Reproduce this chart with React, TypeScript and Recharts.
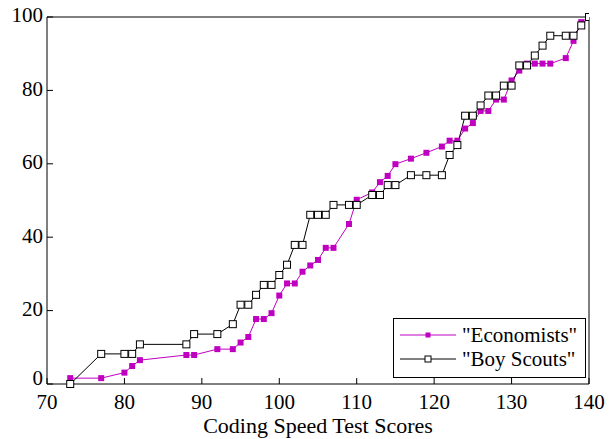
import React from 'react';
import { LineChart, Line, XAxis, YAxis, Legend } from 'recharts';

const scores = [73, 77, 80, 81, 82, 88, 89, 92, 94, 95, 96, 97, 98, 99, 100, 101, 102, 103, 104, 105, 106, 107, 109, 110, 112, 113, 114, 115, 117, 119, 121, 122, 123, 124, 125, 126, 127, 128, 129, 130, 131, 132, 133, 134, 135, 137, 138, 139, 140];
const economists = [1.6, 1.6, 3.1, 4.9, 6.5, 7.9, 7.9, 9.5, 9.5, 11.3, 12.8, 17.7, 17.7, 19.3, 24.1, 27.4, 27.4, 30.6, 32.3, 33.8, 37.1, 37.1, 43.6, 50.2, 52.2, 55.0, 56.7, 59.9, 61.4, 63.0, 64.7, 66.3, 66.3, 69.6, 71.1, 74.4, 74.4, 77.5, 77.5, 82.7, 85.4, 87.3, 87.3, 87.3, 87.3, 88.8, 93.5, 98.6, 100];
const boyScouts = [0, 8.2, 8.2, 8.2, 10.8, 10.8, 13.6, 13.6, 16.3, 21.6, 21.6, 24.3, 27.0, 27.0, 29.7, 32.5, 37.9, 37.9, 46.1, 46.1, 46.1, 48.8, 48.8, 48.8, 51.5, 51.5, 54.2, 54.2, 56.9, 56.9, 56.9, 62.4, 65.1, 73.1, 73.1, 75.9, 78.6, 78.6, 81.3, 81.3, 86.8, 86.8, 89.5, 92.2, 94.9, 94.9, 94.9, 97.7, 100];
const xTicks = [70, 80, 90, 100, 110, 120, 130, 140];
const yTicks = [0, 20, 40, 60, 80, 100];
const seriesNames = ['"Economists"', '"Boy Scouts"'];

const data = scores.map((s, i) => ({ score: s, econ: economists[i], boy: boyScouts[i] }));

const MAGENTA = '#c000c0';
const FONT = "'Liberation Serif', 'DejaVu Serif', 'Times New Roman', Times, serif";

const EconDot = (props: any) => {
  const { cx, cy } = props;
  if (cx == null || cy == null) return null;
  return <rect x={cx - 3} y={cy - 3} width={6} height={6} fill={MAGENTA} stroke="none" />;
};

const BoyDot = (props: any) => {
  const { cx, cy } = props;
  if (cx == null || cy == null) return null;
  return <rect x={cx - 3.5} y={cy - 3.5} width={7} height={7} fill="#fff" stroke="#000" strokeWidth={1} />;
};

const YTick = (props: any) => {
  const { x, y, payload } = props;
  const shift = payload.value === 0 ? -6 : -2;
  return (
    <text x={x} y={y + shift} dy="0.355em" textAnchor="end" fill="#000" fontSize={21} fontFamily={FONT}>
      {payload.value}
    </text>
  );
};

const LegendBox = () => (
  <div
    style={{
      width: 193,
      height: 60,
      border: '1px solid #000',
      boxSizing: 'border-box',
      background: '#fff',
      fontFamily: FONT,
      fontSize: 21,
      color: '#000',
      paddingTop: 4,
    }}
  >
    {[0, 1].map((k) => (
      <div key={k} style={{ display: 'flex', alignItems: 'center', height: 24, lineHeight: '24px' }}>
        <svg width={68} height={24} style={{ display: 'block' }}>
          <line x1={6} y1={12} x2={62} y2={12} stroke={k === 0 ? MAGENTA : '#000'} strokeWidth={1} />
          {k === 0 ? (
            <rect x={31.5} y={9.5} width={5} height={5} fill={MAGENTA} />
          ) : (
            <rect x={31} y={9} width={6} height={6} fill="#fff" stroke="#000" strokeWidth={1} />
          )}
        </svg>
        <span style={{ whiteSpace: 'nowrap' }}>{seriesNames[k]}</span>
      </div>
    ))}
  </div>
);

export default function App() {
  return (
    <div style={{ position: 'absolute', left: 0, top: 0, background: '#fff' }}>
      <LineChart width={609} height={439} data={data} margin={{ top: 0, right: 0, bottom: 0, left: 0 }}>
        <XAxis
          dataKey="score"
          type="number"
          domain={[70, 140]}
          ticks={xTicks}
          allowDataOverflow
          height={55}
          stroke="#000"
          tickSize={-6}
          tickMargin={16}
          tick={{ fill: '#000', fontSize: 21, fontFamily: FONT }}
          label={{ value: 'Coding Speed Test Scores', position: 'insideBottom', offset: 6, fill: '#000', fontSize: 22, fontFamily: FONT }}
        />
        <XAxis
          xAxisId="top"
          orientation="top"
          dataKey="score"
          type="number"
          domain={[70, 140]}
          ticks={xTicks}
          height={17}
          stroke="#000"
          tickSize={-6}
          tick={false}
        />
        <YAxis
          type="number"
          domain={[0, 100]}
          ticks={yTicks}
          width={47}
          stroke="#000"
          tickSize={-6}
          tickMargin={10}
          tick={<YTick />}
        />
        <YAxis
          yAxisId="right"
          orientation="right"
          type="number"
          domain={[0, 100]}
          ticks={yTicks}
          width={20}
          stroke="#000"
          tickSize={-6}
          tick={false}
        />
        <Legend
          layout="vertical"
          align="center"
          verticalAlign="middle"
          content={<LegendBox />}
          wrapperStyle={{ left: 393, top: 318, width: 193, height: 60 }}
        />
        <Line
          dataKey="econ"
          name={seriesNames[0]}
          stroke={MAGENTA}
          strokeWidth={1}
          dot={<EconDot />}
          activeDot={false}
          isAnimationActive={false}
          type="linear"
        />
        <Line
          dataKey="boy"
          name={seriesNames[1]}
          stroke="#000"
          strokeWidth={1}
          dot={<BoyDot />}
          activeDot={false}
          isAnimationActive={false}
          type="linear"
        />
      </LineChart>
    </div>
  );
}
